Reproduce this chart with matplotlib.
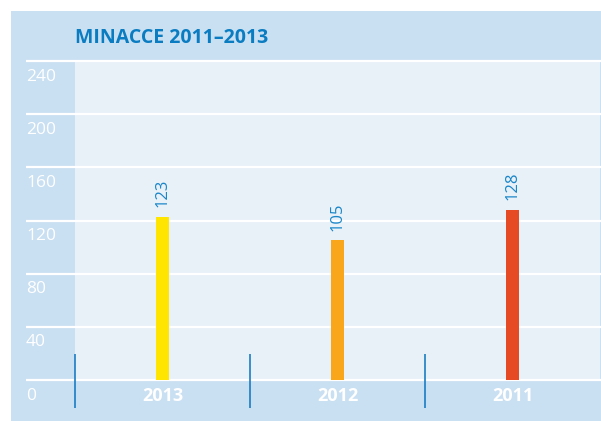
import matplotlib
matplotlib.use("Agg")
import matplotlib.pyplot as plt
from matplotlib.patches import Rectangle

categories = ["2013", "2012", "2011"]
values = [123, 105, 128]
bar_colors = ["#ffe500", "#f9a61a", "#e64a24"]
yticks = [0, 40, 80, 120, 160, 200, 240]
title = "MINACCE 2011\u20132013"

W, H = 601, 421
fig = plt.figure(figsize=(W / 100, H / 100), dpi=100)
fig.patch.set_facecolor("white")

outer_bg = "#c9dff2"
plot_bg = "#e8f0f8"
blue = "#0a7cc1"
font = "Open Sans"

# outer panel
fig.patches.append(Rectangle((11 / W, 0), 1 - 11 / W, 1 - 11 / H,
                             transform=fig.transFigure, facecolor=outer_bg,
                             edgecolor="none", zorder=-5))

x0, x1 = 75, 600
ytop, ybot = 61, 380
ax = fig.add_axes([x0 / W, 1 - ybot / H, (x1 - x0) / W, (ybot - ytop) / H])
ax.set_zorder(2)
ax.set_facecolor(plot_bg)
ax.set_xlim(0, 3)
ax.set_ylim(0, 240)
for s in ax.spines.values():
    s.set_visible(False)
ax.set_xticks([])
ax.set_yticks([])

# gridlines extending into left column
xmin_ax = (26 - x0) / (x1 - x0)
xmax_ax = (W - x0) / (x1 - x0)
for t in yticks:
    ax.plot([xmin_ax, xmax_ax], [t, t], color="white", lw=1.6,
            transform=ax.get_yaxis_transform(), clip_on=False, zorder=1,
            solid_capstyle="butt")
    ax.annotate(str(t), xy=(xmin_ax, t), xycoords=ax.get_yaxis_transform(),
                xytext=(0, -5.5), textcoords="offset points",
                ha="left", va="top", color="white", fontsize=12.5,
                fontfamily=font)

xs = [i + 0.5 for i in range(len(categories))]
ax.bar(xs, values, width=0.075, color=bar_colors, zorder=2)
for x, v in zip(xs, values):
    ax.annotate(str(v), xy=(x, v), xytext=(0, 7), textcoords="offset points",
                rotation=90, ha="center", va="bottom", color="#1a86c8",
                fontsize=12, fontfamily=font)

# category labels
for x, c in zip(xs, categories):
    ax.text(x, -0.049, c, transform=ax.get_xaxis_transform(), ha="center",
            va="center", color="white", fontsize=13, fontweight="bold",
            fontfamily=font)

# separators
seps = [0, 1, 2]
ax.vlines(seps, -21, 19.6, color="#1a7dc4", lw=1.2, clip_on=False, zorder=3)

fig.text(75 / W, 1 - 43 / H, title, ha="left", va="baseline", color=blue,
         fontsize=14, fontweight="bold", fontfamily=font)

fig.savefig("out.png", dpi=100, facecolor=fig.get_facecolor())
